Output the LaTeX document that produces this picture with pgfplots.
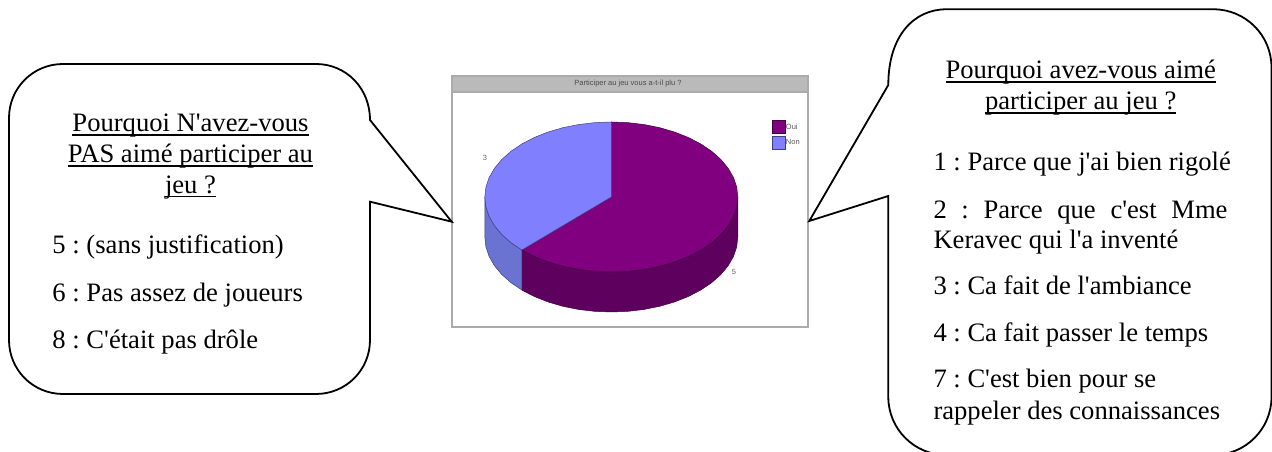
\documentclass[border=0pt]{standalone}
\usepackage{pgfplots}
\pgfplotsset{compat=1.18}
\usepackage{fontspec}
\newfontfamily\tms{Liberation Serif}
\newfontfamily\hlv{Liberation Sans}
\definecolor{oui}{HTML}{800080}
\definecolor{ouis}{HTML}{5E005E}
\definecolor{non}{HTML}{8080FF}
\definecolor{nons}{HTML}{6A72D2}
\newcommand\ul[1]{\setbox0=\hbox{#1}\copy0\kern-\wd0\vrule width\wd0 height -2.4bp depth 3.9bp}
\newcommand\fs{\fontsize{26.6bp}{30bp}\selectfont\tms\frenchspacing}
\begin{document}
\begin{tikzpicture}[x=1bp,y=1bp]
\clip (0,0) rectangle (1272,452);
\begin{axis}[
  at={(0,0)},anchor=south west,
  scale only axis,width=1272bp,height=452bp,
  xmin=0,xmax=1272,ymin=0,ymax=452,y dir=reverse,
  hide axis,clip=false,
  legend style={at={(axis cs:771.5,120.5)},anchor=north west,draw=none,fill=none,inner sep=0pt,outer sep=0pt,
    font=\fontsize{7.5bp}{9bp}\selectfont\hlv\color{black!65},row sep=2.5bp,
    nodes={inner sep=0.6bp}},
  legend cell align=left,
]
% chart frame
\draw[draw=black!33,line width=2bp,fill=white] (axis cs:451.7,76) rectangle (axis cs:807.7,327.3);
\fill[black!27] (axis cs:451.7,76) rectangle (axis cs:807.7,91.7);
\draw[draw=black!33,line width=2bp] (axis cs:451.7,76) rectangle (axis cs:807.7,91.7);
\node[font=\fontsize{7.5bp}{9bp}\selectfont\hlv,text=black!70] at (axis cs:628,83.5) {Participer au jeu vous a-t-il plu ?};
% side of Oui
\addplot[fill=ouis,draw=black!50!oui,line width=0.5bp,forget plot] coordinates {
(737.8,197)(736.71,206.79)(733.49,216.41)(728.17,225.7)(720.85,234.5)(711.67,242.66)(700.75,250.03)(688.31,256.51)(674.55,261.95)(659.71,266.29)(644.04,269.44)(627.81,271.36)(611.3,272)(594.79,271.36)(578.56,269.44)(562.89,266.29)(548.05,261.95)(534.29,256.51)(521.85,250.03)
(521.85,290.03)(534.29,296.51)(548.05,301.95)(562.89,306.29)(578.56,309.44)(594.79,311.36)(611.3,312)(627.81,311.36)(644.04,309.44)(659.71,306.29)(674.55,301.95)(688.31,296.51)(700.75,290.03)(711.67,282.66)(720.85,274.5)(728.17,265.7)(733.49,256.41)(736.71,246.79)(737.8,237)
} -- cycle;
% side of Non
\addplot[fill=nons,draw=black!50!non,line width=0.5bp,forget plot] coordinates {
(521.85,250.03)(510.93,242.66)(501.75,234.5)(494.43,225.7)(489.11,216.41)(485.89,206.79)(484.8,197)
(484.8,237)(485.89,246.79)(489.11,256.41)(494.43,265.7)(501.75,274.5)(510.93,282.66)(521.85,290.03)
} -- cycle;
% top of Oui (5 of 8)
\addplot[fill=oui,draw=black!50!oui,line width=0.5bp,
  legend image code/.code={\draw[fill=oui,draw=black!50!oui,line width=0.3bp] (0bp,-6.4bp) rectangle (13.5bp,6.4bp);}] coordinates {
(611.3,197)(611.3,122)(627.81,122.64)(644.04,124.56)(659.71,127.71)(674.55,132.05)(688.31,137.49)(700.75,143.97)(711.67,151.34)(720.85,159.5)(728.17,168.34)(733.49,177.59)(736.71,187.21)(737.8,197)
(736.71,206.79)(733.49,216.41)(728.17,225.7)(720.85,234.5)(711.67,242.66)(700.75,250.03)(688.31,256.51)(674.55,261.95)(659.71,266.29)(644.04,269.44)(627.81,271.36)(611.3,272)
(594.79,271.36)(578.56,269.44)(562.89,266.29)(548.05,261.95)(534.29,256.51)(521.85,250.03)
} -- cycle;
\addlegendentry{Oui}
% top of Non (3 of 8)
\addplot[fill=non,draw=black!50!non,line width=0.5bp,
  legend image code/.code={\draw[fill=non,draw=black!50!non,line width=0.3bp] (0bp,-6.4bp) rectangle (13.5bp,6.4bp);}] coordinates {
(611.3,197)(521.85,250.03)(510.93,242.66)(501.75,234.5)(494.43,225.7)(489.11,216.41)(485.89,206.79)(484.8,197)
(485.89,187.21)(489.11,177.59)(494.43,168.34)(501.75,159.5)(510.93,151.34)(521.85,143.97)(534.29,137.49)(548.05,132.05)(562.89,127.71)(578.56,124.56)(594.79,122.64)(611.3,122)
} -- cycle;
\addlegendentry{Non}
\node[font=\fontsize{7.5bp}{9bp}\selectfont\hlv,text=black!60] at (axis cs:485,158) {3};
\node[font=\fontsize{7.5bp}{9bp}\selectfont\hlv,text=black!60] at (axis cs:734,272) {5};
\end{axis}
\begin{scope}[shift={(0,452)},x=1bp,y=-1bp]
\draw[black,fill=white,line width=1.8bp,miter limit=10]
 (370,201.7) -- (370,340) .. controls (370,370) and (346,394) .. (316,394) -- (63,394)
 .. controls (33,394) and (9,370) .. (9,340) -- (9,118) .. controls (9,88) and (33,64) .. (63,64)
 -- (316,64) .. controls (346,64) and (370,88) .. (370,120) -- (451.7,221.7) -- cycle;
\draw[black,fill=white,line width=1.8bp,miter limit=10]
 (888.3,196) -- (888.3,397) .. controls (888.3,429) and (914.3,455) .. (946.3,455) -- (1213.5,455)
 .. controls (1245.5,455) and (1271.5,429) .. (1271.5,397) -- (1271.5,67.3)
 .. controls (1271.5,35.3) and (1245.5,9.3) .. (1213.5,9.3) -- (946.3,9.3)
 .. controls (914.3,9.3) and (888.3,35.3) .. (888.3,85) -- (809.3,221) -- cycle;
\tikzset{c/.style={anchor=base,inner sep=0pt,font=\fs},l/.style={anchor=base west,inner sep=0pt,font=\fs}}
\node[c] at (190.5,131.7) {\ul{Pourquoi N'avez-vous}};
\node[c] at (190.5,162.7) {\ul{PAS aimé participer au}};
\node[c] at (190.5,193.3) {\ul{jeu ?}};
\node[l] at (52.3,254) {5 : (sans justification)};
\node[l] at (52.3,301.7) {6 : Pas assez de joueurs};
\node[l] at (52.3,349) {8 : C'était pas drôle};
\node[c] at (1080.7,79) {\ul{Pourquoi avez-vous aimé}};
\node[c] at (1080.7,110) {\ul{participer au jeu ?}};
\node[l] at (933.3,171) {1 : Parce que j'ai bien rigolé};
\node[l] at (933.3,218.3) {\makebox[294bp][s]{2\hfill:\hfill Parce\hfill que\hfill c'est\hfill Mme}};
\node[l] at (933.3,248.3) {Keravec qui l'a inventé};
\node[l] at (933.3,295) {3 : Ca fait de l'ambiance};
\node[l] at (933.3,341.7) {4 : Ca fait passer le temps};
\node[l] at (933.3,387.7) {7 : C'est bien pour se};
\node[l] at (933.3,419.3) {rappeler des connaissances};
\end{scope}
\end{tikzpicture}
\end{document}
